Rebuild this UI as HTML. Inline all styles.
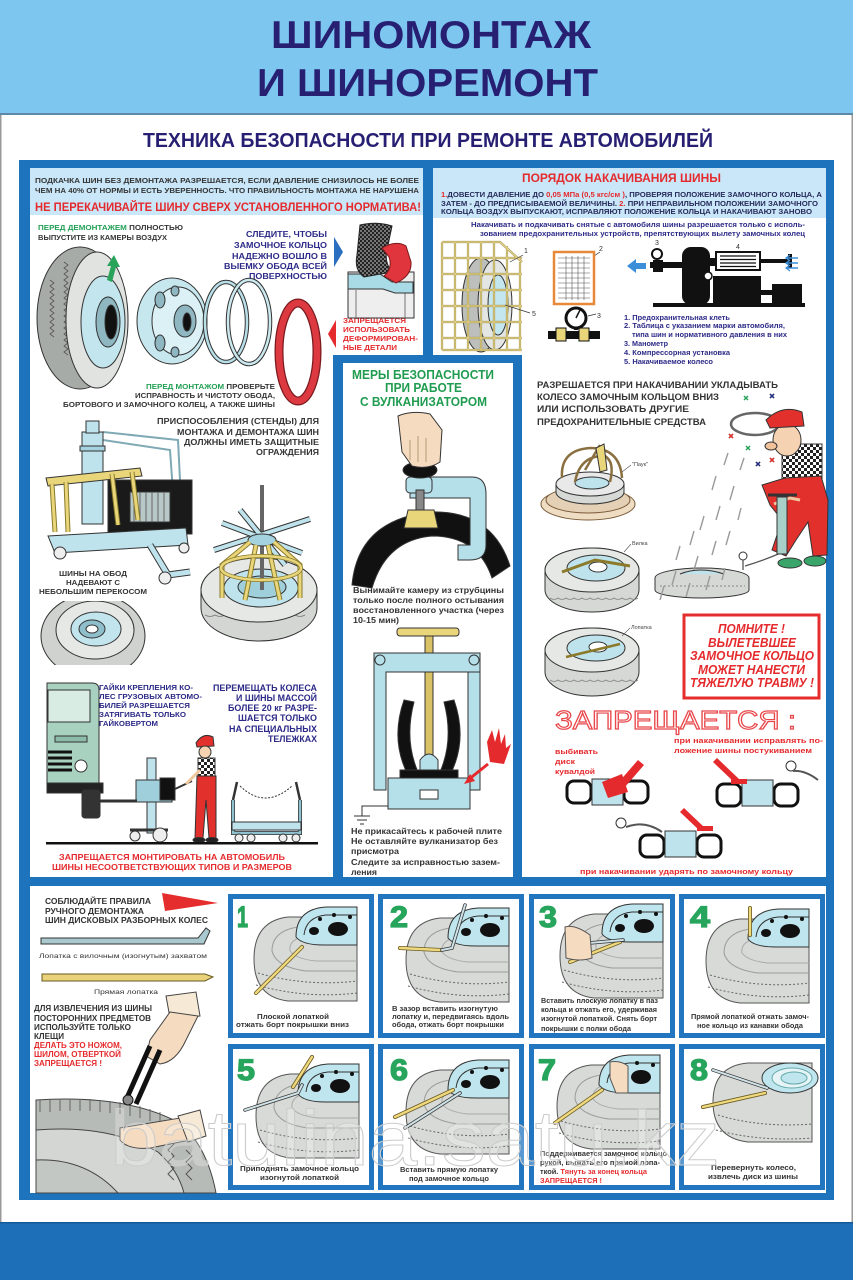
<!DOCTYPE html>
<html><head><meta charset="utf-8"><title>Шиномонтаж и шиноремонт</title>
<style>
html,body{margin:0;padding:0;background:#fff;width:853px;height:1280px;overflow:hidden}
svg{display:block}
text{font-family:"Liberation Sans","Noto Sans CJK JP",sans-serif;font-weight:bold}
.n{font-weight:normal}
</style></head><body>
<svg xmlns="http://www.w3.org/2000/svg" xmlns:xlink="http://www.w3.org/1999/xlink" width="853" height="1280" viewBox="0 0 853 1280">
<defs>
<pattern id="chk" width="6" height="6" patternUnits="userSpaceOnUse"><rect width="6" height="6" fill="#fff"/><rect width="3" height="3" fill="#222"/><rect x="3" y="3" width="3" height="3" fill="#222"/></pattern>
<pattern id="chk2" width="4" height="4" patternUnits="userSpaceOnUse"><rect width="4" height="4" fill="#777"/><rect width="2" height="2" fill="#222"/><rect x="2" y="2" width="2" height="2" fill="#222"/></pattern>
<g id="st">
 <path d="M131,22 H62 Q28,26 28,64 Q28,102 62,106 H131 Z" fill="#d7dad7" stroke="#555"/>
 <path d="M131,32 H72 Q46,36 46,56 Q50,72 80,76 H131" fill="none" stroke="#9a9d9a"/>
 <path d="M131,40 H82 Q62,44 64,56 Q70,64 90,66 H131" fill="none" stroke="#aaa"/>
 <path d="M32,78 Q80,92 131,86" fill="none" stroke="#666" stroke-dasharray="2 2"/>
 <path d="M30,90 Q80,104 131,98" fill="none" stroke="#666" stroke-dasharray="2 2"/>
 <path d="M70,42 Q70,14 100,12 H131 V50 H98 Q76,50 70,42Z" fill="#bfe5ee" stroke="#333"/>
 <path d="M78,40 Q80,22 100,20 H131" fill="none" stroke="#333"/>
 <ellipse cx="112" cy="34" rx="10" ry="7" fill="#111"/>
 <ellipse cx="88" cy="36" rx="5" ry="4" fill="#111"/>
 <circle cx="94" cy="24" r="2" fill="#111"/><circle cx="108" cy="20" r="2" fill="#111"/><circle cx="124" cy="22" r="2" fill="#111"/>
</g>
</defs>

<rect width="853" height="1280" fill="#fff"/>
<!-- header -->
<rect x="0" y="0" width="853" height="113" fill="#7cc6f0"/>
<rect x="0" y="113" width="853" height="2" fill="#5d89a9"/>
<text x="271" y="48" font-size="39" fill="#261f72" textLength="320" lengthAdjust="spacingAndGlyphs">ШИНОМОНТАЖ</text>
<text x="257" y="96" font-size="39" fill="#261f72" textLength="341" lengthAdjust="spacingAndGlyphs">И ШИНОРЕМОНТ</text>
<text x="143" y="147" font-size="20.5" fill="#261f72" textLength="570" lengthAdjust="spacingAndGlyphs">ТЕХНИКА БЕЗОПАСНОСТИ ПРИ РЕМОНТЕ АВТОМОБИЛЕЙ</text>
<rect x="0" y="115" width="1.5" height="1107" fill="#999"/>
<rect x="851.5" y="115" width="1.5" height="1107" fill="#999"/>

<!-- frame -->
<rect x="19" y="160" width="815" height="1040" fill="#1e73bd"/>
<path d="M30,168 H423 V355 H333 V877 H30 Z" fill="#fff"/>
<path d="M433,168 H826 V877 H522 V355 H433 Z" fill="#fff"/>
<rect x="343" y="363" width="170" height="514" fill="#fff"/>
<rect x="30" y="886" width="796" height="307" fill="#fff"/>
<rect x="30" y="168" width="393" height="47" fill="#c9e7f8"/>
<rect x="433" y="168" width="393" height="50" fill="#c9e7f8"/>

<!-- ===== LEFT TOP ===== -->
<text x="35" y="183" font-size="7.3" fill="#353535" textLength="384" lengthAdjust="spacingAndGlyphs">ПОДКАЧКА ШИН БЕЗ ДЕМОНТАЖА РАЗРЕШАЕТСЯ, ЕСЛИ ДАВЛЕНИЕ СНИЗИЛОСЬ НЕ БОЛЕЕ</text>
<text x="35" y="193" font-size="7.3" fill="#353535" textLength="384" lengthAdjust="spacingAndGlyphs">ЧЕМ НА 40% ОТ НОРМЫ И ЕСТЬ УВЕРЕННОСТЬ. ЧТО ПРАВИЛЬНОСТЬ МОНТАЖА НЕ НАРУШЕНА</text>
<text x="35" y="211" font-size="11.5" fill="#e52a2d" textLength="386" lengthAdjust="spacingAndGlyphs">НЕ ПЕРЕКАЧИВАЙТЕ ШИНУ СВЕРХ УСТАНОВЛЕННОГО НОРМАТИВА!</text>
<text x="38" y="230" font-size="7" textLength="145" lengthAdjust="spacingAndGlyphs"><tspan fill="#23a055">ПЕРЕД ДЕМОНТАЖЕМ</tspan><tspan fill="#353535"> ПОЛНОСТЬЮ</tspan></text>
<text x="38" y="240" font-size="7" fill="#353535" textLength="129" lengthAdjust="spacingAndGlyphs">ВЫПУСТИТЕ ИЗ КАМЕРЫ ВОЗДУХ</text>
<g font-size="8.2" fill="#2d2a87">
<text x="246" y="237" textLength="81" lengthAdjust="spacingAndGlyphs">СЛЕДИТЕ, ЧТОБЫ</text>
<text x="234" y="248" textLength="93" lengthAdjust="spacingAndGlyphs">ЗАМОЧНОЕ КОЛЬЦО</text>
<text x="232" y="259" textLength="95" lengthAdjust="spacingAndGlyphs">НАДЕЖНО ВОШЛО В</text>
<text x="224" y="269" textLength="103" lengthAdjust="spacingAndGlyphs">ВЫЕМКУ ОБОДА ВСЕЙ</text>
<text x="249" y="279" textLength="78" lengthAdjust="spacingAndGlyphs">ПОВЕРХНОСТЬЮ</text>
</g>
<g font-size="7.5" fill="#e52a2d">
<text x="343" y="323" textLength="63" lengthAdjust="spacingAndGlyphs">ЗАПРЕЩАЕТСЯ</text>
<text x="343" y="332" textLength="67" lengthAdjust="spacingAndGlyphs">ИСПОЛЬЗОВАТЬ</text>
<text x="343" y="341" textLength="75" lengthAdjust="spacingAndGlyphs">ДЕФОРМИРОВАН-</text>
<text x="343" y="350" textLength="54" lengthAdjust="spacingAndGlyphs">НЫЕ ДЕТАЛИ</text>
</g>
<polygon points="334,237 343,252 334,267" fill="#2a6fc0"/>
<polygon points="336,320 328,334 336,348" fill="#e52a2d"/>
<!-- rim cross-section -->
<rect x="348" y="272" width="66" height="46" fill="#eee" stroke="#333"/>
<path d="M356,290 V318 M405,292 V318" stroke="#777"/>
<path d="M348,274 H380 L392,282 H413 V293 H395 L383,289 H348Z" fill="#a9dbe6" stroke="#333"/>
<path d="M360,225 Q377,221 392,226 L387,250 Q384,262 392,272 L364,277 Q354,270 357,255 Z" fill="url(#chk2)" stroke="#222"/>
<path d="M382,248 Q396,240 406,246 L411,262 Q412,276 396,283 L384,276 Q393,268 389,257Z" fill="#e0353c" stroke="#7a1a1c"/>
<!-- big tire -->
<g stroke="#333">
<ellipse cx="80" cy="318" rx="43" ry="71" fill="#a7aba8"/>
<path d="M50,280 l4,3 -4,3 4,3 -4,3 4,3 -4,3 4,3 -4,3 4,3 -4,3 4,3 -4,3 4,3 -4,3 4,3 -4,3 4,3 -4,3 4,3 M64,262 l4,3 -4,3 4,3 -4,3 4,3 -4,3 4,3 -4,3 4,3 -4,3 4,3 -4,3 4,3 -4,3 4,3 -4,3 4,3 -4,3 4,3 -4,3 4,3 -4,3 4,3 -4,3 4,3 -4,3 4,3 -4,3 4,3 -4,3 4,3" fill="none" stroke="#555" stroke-width="0.8"/>
<ellipse cx="97" cy="320" rx="31" ry="68" fill="#e1e3e1"/>
<ellipse cx="103" cy="322" rx="22" ry="46" fill="#c3e5ee"/>
<ellipse cx="108" cy="322" rx="12" ry="25" fill="#8fb7c2"/>
<ellipse cx="111" cy="322" rx="6" ry="17" fill="#111"/>
</g>
<path d="M107,280 L111,266 L107,266 L114,255 L120,267 L116,267 L112,282Z" fill="#2aa35a"/>
<!-- disc -->
<g stroke="#333">
<ellipse cx="172" cy="321" rx="35" ry="43" fill="#c7e7ef"/>
<ellipse cx="178" cy="321" rx="26" ry="34" fill="#dcf1f6"/>
<ellipse cx="160" cy="300" rx="5" ry="8" fill="#8fb7c2"/><ellipse cx="160" cy="343" rx="5" ry="8" fill="#8fb7c2"/>
<ellipse cx="175" cy="291" rx="4" ry="5" fill="#8fb7c2"/><ellipse cx="175" cy="352" rx="4" ry="5" fill="#8fb7c2"/>
<ellipse cx="185" cy="321" rx="11" ry="16" fill="#8fb7c2"/>
<ellipse cx="187" cy="322" rx="4" ry="9" fill="#111"/>
</g>
<!-- rings -->
<ellipse cx="226" cy="322" rx="21" ry="40" fill="none" stroke="#333" stroke-width="4.5"/>
<ellipse cx="226" cy="322" rx="21" ry="40" fill="none" stroke="#b9dfe8" stroke-width="2.5"/>
<ellipse cx="249" cy="322" rx="21" ry="42" fill="none" stroke="#333" stroke-width="4.5"/>
<ellipse cx="249" cy="322" rx="21" ry="42" fill="none" stroke="#cbe9ef" stroke-width="2.5"/>
<!-- red ring -->
<ellipse cx="298" cy="352" rx="19" ry="49" fill="none" stroke="#7a1a1e" stroke-width="9"/>
<ellipse cx="298" cy="352" rx="19" ry="49" fill="none" stroke="#dc3a40" stroke-width="6.5"/>
<text x="146" y="389" font-size="7.3" textLength="129" lengthAdjust="spacingAndGlyphs"><tspan fill="#23a055">ПЕРЕД МОНТАЖОМ</tspan><tspan fill="#353535"> ПРОВЕРЬТЕ</tspan></text>
<text x="135" y="398" font-size="7.3" fill="#353535" textLength="140" lengthAdjust="spacingAndGlyphs">ИСПРАВНОСТЬ И ЧИСТОТУ ОБОДА,</text>
<text x="63" y="407" font-size="7.3" fill="#353535" textLength="212" lengthAdjust="spacingAndGlyphs">БОРТОВОГО И ЗАМОЧНОГО КОЛЕЦ, А ТАКЖЕ ШИНЫ</text>

<!-- ===== LEFT MIDDLE ===== -->
<g font-size="8.6" fill="#353535">
<text x="157" y="424" textLength="162" lengthAdjust="spacingAndGlyphs">ПРИСПОСОБЛЕНИЯ (СТЕНДЫ) ДЛЯ</text>
<text x="177" y="435" textLength="142" lengthAdjust="spacingAndGlyphs">МОНТАЖА И ДЕМОНТАЖА ШИН</text>
<text x="184" y="445" textLength="135" lengthAdjust="spacingAndGlyphs">ДОЛЖНЫ ИМЕТЬ ЗАЩИТНЫЕ</text>
<text x="256" y="455" textLength="63" lengthAdjust="spacingAndGlyphs">ОГРАЖДЕНИЯ</text>
</g>
<!-- machine -->
<g stroke="#333">
<path d="M103,432 L178,440 L182,520 M103,440 L170,450 L175,520" fill="none" stroke="#7fa9b5" stroke-width="2"/>
<rect x="108" y="480" width="84" height="54" fill="#1a1a1a"/>
<rect x="130" y="492" width="40" height="30" fill="#b8c8c8"/>
<path d="M134,492 V522 M140,492 V522 M146,492 V522 M152,492 V522 M158,492 V522 M164,492 V522" stroke="#666"/>
<rect x="82" y="432" width="21" height="92" fill="#bfe3ec"/>
<rect x="86" y="421" width="13" height="12" fill="#bfe3ec"/>
<rect x="80" y="446" width="25" height="5" fill="#a4d2de"/>
<path d="M46,478 L140,468 L142,476 L48,486Z" fill="#e9d67b"/>
<path d="M52,484 L55,532 M66,482 L68,532 M112,474 L118,525 M132,472 L138,520" stroke="#8a7a2a" stroke-width="5" fill="none"/>
<path d="M52,484 L55,532 M66,482 L68,532 M112,474 L118,525 M132,472 L138,520" stroke="#e9d67b" stroke-width="3" fill="none"/>
<path d="M48,536 L186,528 L188,545 L55,553 Z" fill="#bfe3ec"/>
<path d="M150,545 L168,575 L190,572" fill="none" stroke="#333" stroke-width="7"/>
<path d="M150,545 L168,575 L190,572" fill="none" stroke="#bfe3ec" stroke-width="5"/>
<circle cx="60" cy="553" r="6" fill="#eee"/><circle cx="165" cy="578" r="6" fill="#eee"/><circle cx="184" cy="548" r="5" fill="#eee"/>
</g>
<!-- spreader on tire -->
<g stroke="#333">
<path d="M201,590 A58,32 0 0,1 317,590 L317,608 A58,33 0 0,1 201,608 Z" fill="#d3d6d3"/>
<path d="M205,615 q5,3 10,0 q5,3 10,0 q5,3 10,0 q5,3 10,0 q5,3 10,0 q5,3 10,0 q5,3 10,0 q5,3 10,0 q5,3 10,0 q5,3 10,0" fill="none" stroke="#777" stroke-width="0.8"/>
<ellipse cx="259" cy="590" rx="58" ry="32" fill="#e6e8e6"/>
<ellipse cx="261" cy="588" rx="37" ry="19" fill="#bfe3ec"/>
<ellipse cx="262" cy="587" rx="24" ry="11" fill="#9fcfdb"/>
<path d="M262,485 V590" stroke="#666" stroke-width="4"/>
<path d="M222,523 L302,553 M214,550 L310,519 M240,510 L285,565" stroke="#333" stroke-width="6"/>
<path d="M222,523 L302,553 M214,550 L310,519 M240,510 L285,565" stroke="#bfe3ec" stroke-width="4"/>
<ellipse cx="262" cy="540" rx="14" ry="6" fill="#a4d2de"/>
<path d="M250,542 L222,565 L222,598 M274,542 L300,565 L300,598 M256,545 L245,600 M268,545 L280,600" fill="none" stroke="#8a7a2a" stroke-width="5"/>
<path d="M250,542 L222,565 L222,598 M274,542 L300,565 L300,598 M256,545 L245,600 M268,545 L280,600" fill="none" stroke="#e9d67b" stroke-width="3"/>
<ellipse cx="261" cy="568" rx="40" ry="12" fill="none" stroke="#8a7a2a" stroke-width="4"/>
<ellipse cx="261" cy="568" rx="40" ry="12" fill="none" stroke="#e9d67b" stroke-width="2.5"/>
</g>
<g font-size="7.5" fill="#353535">
<text x="59" y="576" textLength="68" lengthAdjust="spacingAndGlyphs">ШИНЫ НА ОБОД</text>
<text x="66" y="585" textLength="54" lengthAdjust="spacingAndGlyphs">НАДЕВАЮТ С</text>
<text x="39" y="594" textLength="108" lengthAdjust="spacingAndGlyphs">НЕБОЛЬШИМ ПЕРЕКОСОМ</text>
</g>
<!-- tire -->
<clipPath id="c1"><rect x="40" y="601" width="110" height="64"/></clipPath>
<g clip-path="url(#c1)" stroke="#333">
<ellipse cx="93" cy="636" rx="52" ry="42" fill="#cfd2cf"/>
<ellipse cx="95" cy="630" rx="39" ry="29" fill="#e6e8e6"/>
<ellipse cx="96" cy="629" rx="25" ry="17" fill="#c2e4ec"/>
<ellipse cx="92" cy="629" rx="13" ry="9" fill="#8fbfcb"/>
<ellipse cx="92" cy="629" rx="6" ry="4" fill="#fff"/>
</g>
<!-- truck scene -->
<g stroke="#333">
<path d="M47,683 H92 Q99,683 99,690 V785 H47Z" fill="#a9d1bf"/>
<path d="M48,690 H90 V722 H48Z" fill="#d8ece3"/>
<rect x="55" y="736" width="32" height="6" fill="#8dbca8"/>
<path d="M48,752 H72 M48,758 H72 M48,764 H72 M48,770 H72" stroke="#111" stroke-width="3"/>
<circle cx="81" cy="766" r="6" fill="#fff"/>
<rect x="47" y="783" width="56" height="10" fill="#222"/>
<rect x="82" y="790" width="18" height="28" rx="3" fill="#333"/>
<rect x="147" y="758" width="9" height="75" fill="#bfe3ec"/>
<rect x="136" y="780" width="36" height="22" fill="#9fcfdb"/>
<rect x="160" y="778" width="15" height="22" fill="#111"/>
<path d="M100,801 H137" stroke-width="3"/>
<path d="M130,830 H168" stroke-width="3"/>
<circle cx="160" cy="835" r="7" fill="#eee"/><circle cx="135" cy="836" r="5" fill="#eee"/>
<path d="M175,789 L192,781" stroke-width="2"/>
<!-- man -->
<path d="M196,743 Q203,732 213,737 L214,746 L197,747Z" fill="#e2302d"/>
<ellipse cx="205" cy="752" rx="6" ry="6" fill="#f5d3b2"/>
<rect x="198" y="758" width="17" height="32" fill="url(#chk)"/>
<path d="M197,776 H216 V838 H209 L206,800 L203,838 H195Z" fill="#e2302d"/>
<path d="M200,770 L186,784" stroke="#f0c8a0" stroke-width="3"/>
<ellipse cx="199" cy="840" rx="6" ry="2.5" fill="#222"/><ellipse cx="212" cy="840" rx="6" ry="2.5" fill="#222"/>
<!-- cart -->
<path d="M233,800 V833 H300 V800" fill="none" stroke="#333" stroke-width="4"/>
<path d="M233,800 V833 H300 V800" fill="none" stroke="#8fc1cf" stroke-width="2.5"/>
<rect x="232" y="822" width="69" height="8" fill="#bfe3ec"/>
<path d="M237,782 L233,800 M296,782 L300,800" stroke-width="2.5" fill="none"/>
<path d="M240,786 Q265,810 292,786" fill="none" stroke-dasharray="2 1.5"/>
<circle cx="239" cy="838" r="4" fill="#eee"/><circle cx="251" cy="838" r="4" fill="#eee"/><circle cx="283" cy="838" r="4" fill="#eee"/><circle cx="296" cy="838" r="4" fill="#eee"/>
</g>
<rect x="46" y="842" width="272" height="2.5" fill="#111"/>
<g font-size="7.3" fill="#2d2a87">
<text x="99" y="690" textLength="94" lengthAdjust="spacingAndGlyphs">ГАЙКИ КРЕПЛЕНИЯ КО-</text>
<text x="99" y="699" textLength="103" lengthAdjust="spacingAndGlyphs">ЛЕС ГРУЗОВЫХ АВТОМО-</text>
<text x="99" y="708" textLength="91" lengthAdjust="spacingAndGlyphs">БИЛЕЙ РАЗРЕШАЕТСЯ</text>
<text x="99" y="717" textLength="87" lengthAdjust="spacingAndGlyphs">ЗАТЯГИВАТЬ ТОЛЬКО</text>
<text x="99" y="726" textLength="59" lengthAdjust="spacingAndGlyphs">ГАЙКОВЕРТОМ</text>
</g>
<g font-size="9.2" fill="#2d2a87">
<text x="213" y="691" textLength="104" lengthAdjust="spacingAndGlyphs">ПЕРЕМЕЩАТЬ КОЛЕСА</text>
<text x="236" y="701" textLength="81" lengthAdjust="spacingAndGlyphs">И ШИНЫ МАССОЙ</text>
<text x="228" y="711" textLength="89" lengthAdjust="spacingAndGlyphs">БОЛЕЕ 20 кг РАЗРЕ-</text>
<text x="238" y="721" textLength="79" lengthAdjust="spacingAndGlyphs">ШАЕТСЯ ТОЛЬКО</text>
<text x="229" y="732" textLength="88" lengthAdjust="spacingAndGlyphs">НА СПЕЦИАЛЬНЫХ</text>
<text x="268" y="742" textLength="49" lengthAdjust="spacingAndGlyphs">ТЕЛЕЖКАХ</text>
</g>
<g font-size="8.5" fill="#e52a2d">
<text x="59" y="860" textLength="226" lengthAdjust="spacingAndGlyphs">ЗАПРЕЩАЕТСЯ МОНТИРОВАТЬ НА АВТОМОБИЛЬ</text>
<text x="52" y="870" textLength="240" lengthAdjust="spacingAndGlyphs">ШИНЫ НЕСООТВЕТСТВУЮЩИХ ТИПОВ И РАЗМЕРОВ</text>
</g>

<!-- ===== VULCANIZER ===== -->
<g font-size="12.5" fill="#1f9c50">
<text x="352" y="379" textLength="142" lengthAdjust="spacingAndGlyphs">МЕРЫ БЕЗОПАСНОСТИ</text>
<text x="385" y="392" textLength="77" lengthAdjust="spacingAndGlyphs">ПРИ РАБОТЕ</text>
<text x="360" y="406" textLength="127" lengthAdjust="spacingAndGlyphs">С ВУЛКАНИЗАТОРОМ</text>
</g>
<g stroke="#333">
<path d="M352,585 Q358,520 430,512 Q492,510 510,566 L492,578 Q478,536 432,536 Q386,540 372,588Z" fill="#111"/>
<path d="M410,477 H472 Q486,477 486,494 V545 Q486,560 470,560 H458 V545 H470 V498 H410Z" fill="#b5dfe9"/>
<rect x="406" y="477" width="26" height="16" rx="4" fill="#b5dfe9"/>
<rect x="416" y="490" width="8" height="20" fill="#888"/>
<path d="M408,510 H434 L438,528 H404Z" fill="#e9d67b"/>
<ellipse cx="420" cy="470" rx="17" ry="8" fill="#111"/>
<path d="M398,416 Q412,410 430,414 L442,430 L440,462 Q428,470 412,466 L402,452 Z" fill="#f5dcc0"/>
<path d="M410,440 V460 M418,436 V462 M426,438 V462" stroke="#b89878" fill="none"/>
<!-- press -->
<rect x="397" y="628" width="62" height="8" rx="3" fill="#e9d67b"/>
<rect x="425" y="636" width="8" height="120" fill="#d9c266"/>
<path d="M374,653 H480 V672 H386 V790 H374Z" fill="#b5dfe9"/>
<path d="M468,672 H480 V790 H468Z" fill="#b5dfe9"/>
<circle cx="380" cy="660" r="5" fill="#b5dfe9"/><circle cx="474" cy="660" r="5" fill="#b5dfe9"/>
<path d="M404,700 Q390,740 408,775 L418,772 Q404,740 414,702Z M454,700 Q468,740 450,775 L440,772 Q454,740 444,702Z" fill="#111"/>
<path d="M420,760 Q429,748 438,760 V772 H420Z" fill="#b5dfe9"/>
<path d="M400,770 H458 V780 H400Z" fill="#111"/>
<rect x="388" y="778" width="82" height="31" fill="#b5dfe9"/>
<rect x="420" y="790" width="18" height="9" fill="#fff"/>
<path d="M388,806 H362 V816 M354,816 H370 M357,820 H367 M360,824 H364" fill="none"/>
<path d="M487,742 L492,730 L495,742 L499,728 L501,744 L505,734 L506,748 L511,744 L504,764 L490,762Z" fill="#e52a2d" stroke="none"/>
<path d="M488,764 L468,780" stroke="#e52a2d" stroke-width="3"/>
<polygon points="464,784 470,774 475,781" fill="#e52a2d" stroke="none"/>
</g>
<g font-size="8" fill="#333">
<text x="353" y="593" textLength="151" lengthAdjust="spacingAndGlyphs">Вынимайте камеру из струбцины</text>
<text x="353" y="603" textLength="151" lengthAdjust="spacingAndGlyphs">только после полного остывания</text>
<text x="353" y="613" textLength="151" lengthAdjust="spacingAndGlyphs">восстановленного участка (через</text>
<text x="353" y="623" textLength="46" lengthAdjust="spacingAndGlyphs">10-15 мин)</text>
<text x="351" y="834" textLength="151" lengthAdjust="spacingAndGlyphs">Не прикасайтесь к рабочей плите</text>
<text x="351" y="844" textLength="147" lengthAdjust="spacingAndGlyphs">Не оставляйте вулканизатор без</text>
<text x="351" y="854" textLength="48" lengthAdjust="spacingAndGlyphs">присмотра</text>
<text x="351" y="865" textLength="149" lengthAdjust="spacingAndGlyphs">Следите за исправностью зазем-</text>
<text x="351" y="875" textLength="26" lengthAdjust="spacingAndGlyphs">ления</text>
</g>

<!-- ===== RIGHT UPPER ===== -->
<text x="522" y="182" font-size="12" fill="#e52a2d" textLength="199" lengthAdjust="spacingAndGlyphs">ПОРЯДОК НАКАЧИВАНИЯ ШИНЫ</text>
<g font-size="7.6" fill="#262a5a">
<text x="441" y="197" textLength="381" lengthAdjust="spacingAndGlyphs"><tspan fill="#e52a2d">1.</tspan>ДОВЕСТИ ДАВЛЕНИЕ ДО <tspan fill="#e52a2d">0,05 МПа (0,5 кгс/см )</tspan>, ПРОВЕРЯЯ ПОЛОЖЕНИЕ ЗАМОЧНОГО КОЛЬЦА, А</text>
<text x="441" y="206" textLength="377" lengthAdjust="spacingAndGlyphs">ЗАТЕМ - ДО ПРЕДПИСЫВАЕМОЙ ВЕЛИЧИНЫ. <tspan fill="#e52a2d">2.</tspan> ПРИ НЕПРАВИЛЬНОМ ПОЛОЖЕНИИ ЗАМОЧНОГО</text>
<text x="441" y="214" textLength="371" lengthAdjust="spacingAndGlyphs">КОЛЬЦА ВОЗДУХ ВЫПУСКАЮТ, ИСПРАВЛЯЮТ ПОЛОЖЕНИЕ  КОЛЬЦА И НАКАЧИВАЮТ ЗАНОВО</text>
</g>
<g font-size="7.5" fill="#2d2a87">
<text x="471" y="227" textLength="334" lengthAdjust="spacingAndGlyphs">Накачивать и подкачивать снятые с автомобиля  шины разрешается только с исполь-</text>
<text x="480" y="236" textLength="325" lengthAdjust="spacingAndGlyphs">зованием предохранительных устройств, препятствующих вылету замочных колец</text>
</g>
<!-- cage -->
<g stroke="#333">
<ellipse cx="481" cy="305" rx="19" ry="47" fill="#bdbfbd"/>
<ellipse cx="495" cy="305" rx="17" ry="45" fill="#e4e6e4"/>
<ellipse cx="498" cy="305" rx="10" ry="30" fill="#c4e6ee"/>
</g>
<path d="M442,242 V350 M455,242 V350 M468,242 V350 M481,242 V350 M494,242 V350 M507,246 V350 M520,262 V350 M442,242 H500 L522,262 M442,258 H522 M442,274 H522 M442,290 H522 M442,306 H522 M442,322 H522 M442,338 H522 M442,350 H522" fill="none" stroke="#9a8a40" stroke-width="2.2"/>
<path d="M442,242 V350 M455,242 V350 M468,242 V350 M481,242 V350 M494,242 V350 M507,246 V350 M520,262 V350 M442,242 H500 L522,262 M442,258 H522 M442,274 H522 M442,290 H522 M442,306 H522 M442,322 H522 M442,338 H522 M442,350 H522" fill="none" stroke="#e6d88e" stroke-width="1.2"/>
<g class="n" font-size="7" fill="#333">
<text class="n" x="524" y="253">1</text><text class="n" x="532" y="316">5</text>
<text class="n" x="599" y="251">2</text><text class="n" x="597" y="318">3</text>
<text class="n" x="655" y="245">3</text><text class="n" x="736" y="249">4</text>
</g>
<path d="M510,262 L523,255 M505,305 L530,313 M594,256 L600,252 M588,316 L596,314 M740,251 L735,256" stroke="#333" stroke-width="0.7" fill="none"/>
<!-- table -->
<rect x="554" y="252" width="40" height="52" fill="#fff" stroke="#e8893a" stroke-width="2.5"/>
<path d="M558,258 H590 M558,263 H590 M558,268 H590 M558,273 H590 M558,278 H590 M558,283 H590 M558,288 H590 M558,293 H590 M558,298 H590 M566,256 V300 M572,256 V300 M578,256 V300 M584,256 V300" stroke="#555" stroke-width="0.6"/>
<!-- gauge -->
<rect x="548" y="331" width="52" height="8" fill="#111"/>
<rect x="556" y="328" width="10" height="13" fill="#e9d67b" stroke="#111"/>
<rect x="579" y="328" width="10" height="13" fill="#e9d67b" stroke="#111"/>
<rect x="574" y="320" width="4" height="10" fill="#111"/>
<circle cx="576" cy="318" r="10" fill="#fff" stroke="#111" stroke-width="3"/>
<path d="M576,318 L580,310" stroke="#111" stroke-width="1.5"/>
<!-- compressor -->
<g fill="#111">
<rect x="653" y="303" width="152" height="4"/>
<rect x="682" y="247" width="28" height="58" rx="9"/>
<rect x="650" y="262" width="34" height="6"/>
<rect x="653" y="260" width="10" height="12"/>
<rect x="713" y="276" width="48" height="28"/>
<rect x="772" y="284" width="30" height="19"/>
<rect x="761" y="290" width="11" height="5"/>
<rect x="709" y="258" width="8" height="8"/>
<rect x="760" y="259" width="30" height="4"/>
<rect x="788" y="254" width="4" height="14"/>
</g>
<circle cx="657" cy="254" r="5" fill="#fff" stroke="#111" stroke-width="2"/>
<rect x="716" y="252" width="44" height="18" fill="#fff" stroke="#111" stroke-width="2"/>
<path d="M720,256 H756 M720,259.5 H756 M720,263 H756 M720,266.5 H756" stroke="#111" stroke-width="1.2"/>
<circle cx="708" cy="276" r="4" fill="#fff" stroke="#111" stroke-width="1.5"/>
<path d="M627,266 L636,259 V263 H646 V269 H636 V273Z" fill="#3b8ed8"/>
<path d="M786,258 H798 M786,263 H798 M786,268 H798" stroke="#3b8ed8" stroke-width="1.5"/>
<path d="M790,255 L786,258 L790,261 M790,260 L786,263 L790,266 M790,265 L786,268 L790,271" stroke="#3b8ed8" stroke-width="1.2" fill="none"/>
<g font-size="7.3" fill="#2d2a87">
<text x="624" y="320" textLength="106" lengthAdjust="spacingAndGlyphs">1. Предохранительная клеть</text>
<text x="624" y="328" textLength="161" lengthAdjust="spacingAndGlyphs">2. Таблица с указанием марки автомобиля,</text>
<text x="632" y="337" textLength="155" lengthAdjust="spacingAndGlyphs">типа шин и нормативного давления в них</text>
<text x="624" y="346" textLength="44" lengthAdjust="spacingAndGlyphs">3. Манометр</text>
<text x="624" y="355" textLength="106" lengthAdjust="spacingAndGlyphs">4. Компрессорная установка</text>
<text x="624" y="364" textLength="89" lengthAdjust="spacingAndGlyphs">5. Накачиваемое колесо</text>
</g>

<!-- ===== RIGHT LOWER ===== -->
<g font-size="9.6" fill="#333">
<text x="537" y="388" textLength="241" lengthAdjust="spacingAndGlyphs">РАЗРЕШАЕТСЯ ПРИ НАКАЧИВАНИИ УКЛАДЫВАТЬ</text>
<text x="537" y="400" textLength="182" lengthAdjust="spacingAndGlyphs">КОЛЕСО ЗАМОЧНЫМ КОЛЬЦОМ ВНИЗ</text>
<text x="537" y="412" textLength="152" lengthAdjust="spacingAndGlyphs">ИЛИ ИСПОЛЬЗОВАТЬ ДРУГИЕ</text>
<text x="537" y="425" textLength="169" lengthAdjust="spacingAndGlyphs">ПРЕДОХРАНИТЕЛЬНЫЕ СРЕДСТВА</text>
</g>
<!-- spider tire -->
<g stroke="#333">
<ellipse cx="588" cy="504" rx="47" ry="16" fill="#eedcc3" stroke="#7a5a3a"/>
<ellipse cx="588" cy="500" rx="42" ry="13" fill="#e4d0b4" stroke="#7a5a3a"/>
<path d="M556,492 A34,12 0 0,0 624,492 V484 H556Z" fill="#d6d9d6"/>
<ellipse cx="590" cy="484" rx="34" ry="12" fill="#e8e9e8"/>
<ellipse cx="592" cy="483" rx="17" ry="6" fill="#bfe3ec"/>
<path d="M562,478 Q560,450 590,448 Q620,448 622,478 M575,482 Q580,455 605,456 Q615,462 610,482 M585,470 L600,445" fill="none" stroke="#8a7040" stroke-width="2.5"/>
<path d="M596,448 L604,444 L607,470 L600,472Z" fill="#e9d67b"/>
</g>
<!-- vilka tire -->
<g stroke="#333">
<path d="M545,570 A47,22 0 0,1 639,570 V590 A47,22 0 0,1 545,590 Z" fill="#d5d8d5"/>
<path d="M550,598 q4,3 8,0 q4,3 8,0 q4,3 8,0 q4,3 8,0 q4,3 8,0 q4,3 8,0 q4,3 8,0 q4,3 8,0 q4,3 8,0 q4,3 8,0 q4,3 8,0" fill="none" stroke="#888" stroke-width="0.8"/>
<ellipse cx="592" cy="570" rx="47" ry="22" fill="#e6e8e6"/>
<ellipse cx="596" cy="568" rx="29" ry="13" fill="#bfe3ec"/>
<ellipse cx="598" cy="567" rx="9" ry="5" fill="#fff"/>
<path d="M562,572 L595,560 L630,566" fill="none" stroke="#8a7a2a" stroke-width="3"/>
</g>
<!-- lopatka tire -->
<g stroke="#333">
<path d="M545,650 A47,22 0 0,1 639,650 V672 A47,24 0 0,1 545,672 Z" fill="#d5d8d5"/>
<path d="M550,680 q4,3 8,0 q4,3 8,0 q4,3 8,0 q4,3 8,0 q4,3 8,0 q4,3 8,0 q4,3 8,0 q4,3 8,0 q4,3 8,0 q4,3 8,0 q4,3 8,0" fill="none" stroke="#888" stroke-width="0.8"/>
<ellipse cx="592" cy="650" rx="47" ry="22" fill="#e6e8e6"/>
<ellipse cx="596" cy="648" rx="29" ry="13" fill="#bfe3ec"/>
<ellipse cx="598" cy="647" rx="9" ry="5" fill="#fff"/>
<path d="M566,657 L620,644" stroke="#8a7a2a" stroke-width="2.5"/>
</g>
<g class="n" font-size="5.5" fill="#444">
<text class="n" x="632" y="466">"Паук"</text>
<text class="n" x="632" y="545">Вилка</text>
<text class="n" x="631" y="629">Лопатка</text>
</g>
<path d="M631,465 L622,472 M631,544 L624,552 M630,628 L622,636" stroke="#555" stroke-width="0.6"/>
<!-- flat tire -->
<g stroke="#333">
<path d="M655,578 A47,10 0 0,1 749,578 V590 A47,8 0 0,1 655,590 Z" fill="#d5d8d5"/>
<path d="M660,586 H745" stroke="#888" stroke-dasharray="2 2"/>
<path d="M680,574 Q700,566 724,574" fill="#bfe3ec"/>
<circle cx="743" cy="556" r="4" fill="#fff"/>
<path d="M743,560 V570 M745,566 Q765,560 783,552" fill="none" stroke="#555" stroke-width="1.3"/>
</g>
<!-- spray dashes -->
<path d="M660,600 l4,-14 M672,585 l4,-14 M686,597 l4,-14 M694,570 l4,-14 M706,590 l4,-14 M712,555 l4,-14 M722,580 l3,-12 M700,530 l4,-14 M716,520 l4,-14 M726,545 l4,-14 M730,500 l4,-14 M712,490 l4,-14 M740,470 l4,-12 M724,465 l4,-12 M738,520 l3,-12 M690,545 l4,-14 M676,560 l4,-14" stroke="#9a9a9a" stroke-width="1.4"/>
<!-- flying ring & stars -->
<ellipse cx="755" cy="424" rx="24" ry="11" fill="none" stroke="#666" stroke-width="2.5"/>
<path d="M744,396 l4,4 m0,-4 l-4,4 M770,394 l4,4 m0,-4 l-4,4 M729,434 l4,4 m0,-4 l-4,4 M746,446 l4,4 m0,-4 l-4,4 M756,462 l4,4 m0,-4 l-4,4 M770,458 l4,4 m0,-4 l-4,4" stroke="#2aa35a" stroke-width="1.5"/>
<path d="M770,394 l4,4 m0,-4 l-4,4 M756,462 l4,4 m0,-4 l-4,4" stroke="#2d2a87" stroke-width="1.5"/>
<path d="M729,434 l4,4 m0,-4 l-4,4 M770,458 l4,4 m0,-4 l-4,4" stroke="#e52a2d" stroke-width="1.5"/>
<!-- man with pump -->
<g stroke="#333">
<rect x="782" y="444" width="40" height="40" fill="url(#chk)"/>
<path d="M762,485 L785,478 L821,476 L828,500 L827,555 L813,556 L808,522 L796,540 L786,556 L772,550 L782,520 L770,505 Z" fill="#e2302d"/>
<path d="M774,504 L790,498 L800,500" fill="none" stroke="#f0c8a0" stroke-width="3"/>
<rect x="777" y="497" width="10" height="57" fill="#a8cfc8"/>
<path d="M768,495 H797" stroke-width="3"/>
<ellipse cx="787" cy="440" rx="14" ry="16" fill="#f5d3b2"/>
<ellipse cx="771" cy="446" rx="6" ry="4" fill="#f2c29a"/>
<path d="M766,420 Q782,404 802,412 L804,426 L770,428Z" fill="#e2302d"/>
<ellipse cx="790" cy="563" rx="12" ry="5" fill="#3aa56a"/>
<ellipse cx="815" cy="561" rx="11" ry="5" fill="#3aa56a"/>
</g>
<!-- warning box -->
<rect x="684" y="615" width="135" height="83" fill="#fff" stroke="#e52d2d" stroke-width="3"/>
<g font-size="13" fill="#e52a2d" font-style="italic">
<text x="718" y="633" textLength="67" lengthAdjust="spacingAndGlyphs">ПОМНИТЕ !</text>
<text x="708" y="647" textLength="88" lengthAdjust="spacingAndGlyphs">ВЫЛЕТЕВШЕЕ</text>
<text x="690" y="660" textLength="124" lengthAdjust="spacingAndGlyphs">ЗАМОЧНОЕ КОЛЬЦО</text>
<text x="698" y="674" textLength="107" lengthAdjust="spacingAndGlyphs">МОЖЕТ НАНЕСТИ</text>
<text x="690" y="687" textLength="124" lengthAdjust="spacingAndGlyphs">ТЯЖЕЛУЮ ТРАВМУ !</text>
</g>
<text class="n" x="555" y="729" font-size="26" fill="#fff" stroke="#e8474b" stroke-width="1.2" textLength="241" lengthAdjust="spacingAndGlyphs">ЗАПРЕЩАЕТСЯ :</text>
<g font-size="7.5" fill="#e52a2d">
<text x="555" y="754" textLength="43" lengthAdjust="spacingAndGlyphs">выбивать</text>
<text x="555" y="764" textLength="20" lengthAdjust="spacingAndGlyphs">диск</text>
<text x="555" y="774" textLength="40" lengthAdjust="spacingAndGlyphs">кувалдой</text>
<text x="674" y="743" textLength="149" lengthAdjust="spacingAndGlyphs">при накачивании исправлять по-</text>
<text x="674" y="753" textLength="138" lengthAdjust="spacingAndGlyphs">ложение шины постукиванием</text>
<text x="580" y="874" textLength="213" lengthAdjust="spacingAndGlyphs">при накачивании ударять по замочному кольцу</text>
</g>
<!-- small diagrams -->
<g stroke="#111" stroke-width="3">
<rect x="567" y="781" width="24" height="22" rx="7" fill="#fff"/>
<rect x="624" y="781" width="24" height="22" rx="7" fill="#fff"/>
<rect x="717" y="784" width="24" height="22" rx="7" fill="#fff"/>
<rect x="774" y="784" width="24" height="22" rx="7" fill="#fff"/>
<rect x="640" y="835" width="24" height="22" rx="7" fill="#fff"/>
<rect x="697" y="835" width="24" height="22" rx="7" fill="#fff"/>
</g>
<g stroke="#333">
<rect x="592" y="779" width="31" height="26" fill="#bfe3ec"/>
<rect x="742" y="780" width="31" height="26" fill="#bfe3ec"/>
<rect x="665" y="831" width="31" height="26" fill="#bfe3ec"/>
<circle cx="791" cy="766" r="5" fill="#fff"/>
<circle cx="621" cy="823" r="5" fill="#fff"/>
</g>
<path d="M793,771 Q805,770 818,780 M626,827 Q645,820 662,832" fill="none" stroke="#555" stroke-width="2"/>
<g fill="#e52a2d">
<path d="M602,782 L622,774 L628,792 L608,798Z"/>
<path d="M618,783 L638,760 L644,765 L624,788Z"/>
<path d="M717,758 L739,779 L735,783 L713,762Z"/>
<rect x="731" y="779" width="16" height="5"/>
<path d="M684,808 L704,827 L700,831 L680,812Z"/>
<rect x="697" y="826" width="16" height="5"/>
</g>

<!-- ===== BOTTOM SECTION ===== -->
<g font-size="8.4" fill="#333">
<text x="45" y="904" textLength="106" lengthAdjust="spacingAndGlyphs">СОБЛЮДАЙТЕ ПРАВИЛА</text>
<text x="45" y="914" textLength="99" lengthAdjust="spacingAndGlyphs">РУЧНОГО ДЕМОНТАЖА</text>
<text x="45" y="923" textLength="163" lengthAdjust="spacingAndGlyphs">ШИН ДИСКОВЫХ РАЗБОРНЫХ КОЛЕС</text>
</g>
<polygon points="162,893 218,903 165,911" fill="#e52d2d"/>
<path d="M41,938 H198 L206,928 L210,931 L204,944 H41Z" fill="#a9c9cf" stroke="#333"/>
<path d="M42,974 H205 L213,977 L205,981 H42Z" fill="#e9d27a" stroke="#665a20"/>
<g class="n" font-size="6.8" fill="#333">
<text class="n" x="39" y="958" textLength="168" lengthAdjust="spacingAndGlyphs">Лопатка с вилочным (изогнутым) захватом</text>
<text class="n" x="94" y="994" textLength="64" lengthAdjust="spacingAndGlyphs">Прямая лопатка</text>
</g>
<g font-size="8" fill="#333">
<text x="34" y="1011" textLength="118" lengthAdjust="spacingAndGlyphs">ДЛЯ ИЗВЛЕЧЕНИЯ ИЗ ШИНЫ</text>
<text x="34" y="1021" textLength="117" lengthAdjust="spacingAndGlyphs">ПОСТОРОННИХ ПРЕДМЕТОВ</text>
<text x="34" y="1030" textLength="97" lengthAdjust="spacingAndGlyphs">ИСПОЛЬЗУЙТЕ ТОЛЬКО</text>
<text x="34" y="1039" textLength="30" lengthAdjust="spacingAndGlyphs">КЛЕЩИ</text>
</g>
<g font-size="8" fill="#e52a2d">
<text x="34" y="1048" textLength="88" lengthAdjust="spacingAndGlyphs">ДЕЛАТЬ ЭТО НОЖОМ,</text>
<text x="34" y="1057" textLength="87" lengthAdjust="spacingAndGlyphs">ШИЛОМ, ОТВЕРТКОЙ</text>
<text x="34" y="1066" textLength="68" lengthAdjust="spacingAndGlyphs">ЗАПРЕЩАЕТСЯ !</text>
</g>
<!-- tire + hands -->
<g stroke="#444">
<path d="M36,1193 V1100 Q130,1094 183,1125 Q208,1150 216,1193 Z" fill="#b7bbb7"/>
<path d="M40,1100 V1112 M50,1100 V1112 M60,1099 V1111 M70,1099 V1111 M80,1099 V1111 M90,1099 V1111 M100,1100 V1112 M110,1101 V1113 M120,1102 V1114 M130,1104 V1116 M140,1106 V1118 M150,1109 V1121 M160,1112 V1124" stroke="#666" fill="none"/>
<path d="M36,1193 V1130 Q108,1124 158,1152 Q178,1170 184,1193 Z" fill="#d3d6d3"/>
<path d="M36,1193 V1160 Q86,1158 118,1193 Z" fill="#c3c7c3"/>
<path d="M168,1138 l6,6 -6,6 6,6 -6,6 6,6 -6,6 6,6 M186,1150 l6,6 -6,6 6,6 -6,6 6,6" fill="none" stroke="#555"/>
<path d="M166,996 L196,992 L200,1016 L170,1018Z" fill="#f6ead6"/>
<path d="M170,1012 L198,1016 L186,1040 Q176,1062 160,1064 L146,1056 L150,1040 Z" fill="#f5dcc0"/>
<path d="M150,1046 L126,1100 M160,1050 L136,1104" stroke="#111" stroke-width="5" fill="none"/>
<circle cx="128" cy="1100" r="5" fill="#888" stroke="#111"/>
<path d="M120,1128 L180,1118 L190,1140 L150,1148 Q128,1150 120,1140Z" fill="#f5dcc0"/>
<path d="M178,1116 L200,1110 L206,1136 L188,1142Z" fill="#f6ead6"/>
</g>

<!-- step boxes -->
<g fill="#2276c0">
<rect x="228" y="894" width="146" height="144"/><rect x="378" y="894" width="146" height="144"/>
<rect x="529" y="894" width="146" height="144"/><rect x="679" y="894" width="146" height="144"/>
<rect x="228" y="1044" width="146" height="146"/><rect x="378" y="1044" width="146" height="146"/>
<rect x="529" y="1044" width="146" height="146"/><rect x="679" y="1044" width="146" height="146"/>
</g>
<g fill="#fff">
<rect x="233" y="899" width="136" height="134"/><rect x="383" y="899" width="136" height="134"/>
<rect x="534" y="899" width="136" height="134"/><rect x="684" y="899" width="136" height="134"/>
<rect x="233" y="1049" width="136" height="136"/><rect x="383" y="1049" width="136" height="136"/>
<rect x="534" y="1049" width="136" height="136"/><rect x="684" y="1049" width="136" height="136"/>
</g>
<use xlink:href="#st" href="#st" x="226" y="895"/>
<use xlink:href="#st" href="#st" x="378" y="896"/>
<use xlink:href="#st" href="#st" x="532" y="892"/>
<use xlink:href="#st" href="#st" x="678" y="897"/>
<use xlink:href="#st" href="#st" x="228" y="1052"/>
<use xlink:href="#st" href="#st" x="378" y="1048"/>
<use xlink:href="#st" href="#st" x="529" y="1043"/>
<!-- box 8 tire -->
<g stroke="#555">
<path d="M812,1063 H748 Q713,1066 713,1102 Q713,1138 748,1142 H812 Z" fill="#d7dad7"/>
<path d="M718,1115 Q760,1128 812,1124 M716,1130 Q760,1142 812,1138" fill="none" stroke="#666" stroke-dasharray="2 2"/>
<ellipse cx="790" cy="1078" rx="28" ry="15" fill="#bfe5ee" stroke="#333"/>
<ellipse cx="792" cy="1078" rx="20" ry="10" fill="#e6f4f7" stroke="#6aa"/>
<ellipse cx="794" cy="1078" rx="13" ry="6" fill="#bfe5ee" stroke="#6aa"/>
</g>
<!-- levers -->
<g stroke="#6b5a20" stroke-width="4" stroke-linecap="round">
<path d="M256,993 L302,947 M400,948 L440,950 M570,962 L620,942 M750,908 L750,935 M312,1057 L293,1087 M395,1117 L453,1090 M555,1123 L602,1090 M703,1107 L765,1093"/>
</g>
<g stroke="#efd97f" stroke-width="2.4" stroke-linecap="round">
<path d="M256,993 L302,947 M400,948 L440,950 M570,962 L620,942 M750,908 L750,935 M312,1057 L293,1087 M395,1117 L453,1090 M555,1123 L602,1090 M703,1107 L765,1093"/>
</g>
<g stroke="#333" stroke-width="3.5" stroke-linecap="round" fill="none">
<path d="M465,905 L452,948 L442,950 M567,945 L623,940 M245,1110 L298,1093 L302,1085 M405,1128 L460,1093 M713,1070 L767,1088"/>
</g>
<g stroke="#cfe3e8" stroke-width="2" stroke-linecap="round" fill="none">
<path d="M465,905 L452,948 L442,950 M567,945 L623,940 M245,1110 L298,1093 L302,1085 M405,1128 L460,1093 M713,1070 L767,1088"/>
</g>
<path d="M565,927 Q575,924 590,935 L592,958 Q580,962 566,958Z" fill="#f5dcc0" stroke="#555"/>
<path d="M610,1062 Q620,1060 628,1066 L628,1093 L616,1093 L610,1078Z" fill="#f5dcc0" stroke="#555"/>
<!-- digits -->
<g font-size="30" fill="#27a55c" stroke="#27a55c" stroke-width="1.3">
<text x="237" y="927" textLength="11" lengthAdjust="spacingAndGlyphs">1</text>
<text x="390" y="927" textLength="18" lengthAdjust="spacingAndGlyphs">2</text>
<text x="539" y="927" textLength="18" lengthAdjust="spacingAndGlyphs">3</text>
<text x="690" y="927" textLength="20" lengthAdjust="spacingAndGlyphs">4</text>
<text x="237" y="1080" textLength="18" lengthAdjust="spacingAndGlyphs">5</text>
<text x="390" y="1080" textLength="18" lengthAdjust="spacingAndGlyphs">6</text>
<text x="538" y="1080" textLength="18" lengthAdjust="spacingAndGlyphs">7</text>
<text x="690" y="1080" textLength="18" lengthAdjust="spacingAndGlyphs">8</text>
</g>
<!-- step captions -->
<g font-size="7" fill="#333">
<text x="257" y="1019" textLength="72" lengthAdjust="spacingAndGlyphs">Плоской лопаткой</text>
<text x="236" y="1027" textLength="113" lengthAdjust="spacingAndGlyphs">отжать борт покрышки вниз</text>
<text x="392" y="1011" textLength="106" lengthAdjust="spacingAndGlyphs">В зазор вставить изогнутую</text>
<text x="392" y="1019" textLength="117" lengthAdjust="spacingAndGlyphs">лопатку и, передвигаясь вдоль</text>
<text x="392" y="1027" textLength="112" lengthAdjust="spacingAndGlyphs">обода, отжать борт покрышки</text>
<text x="541" y="1003" textLength="117" lengthAdjust="spacingAndGlyphs">Вставить плоскую лопатку в паз</text>
<text x="541" y="1012" textLength="116" lengthAdjust="spacingAndGlyphs">кольца и отжать его, удерживая</text>
<text x="541" y="1021" textLength="116" lengthAdjust="spacingAndGlyphs">изогнутой лопаткой. Снять борт</text>
<text x="541" y="1031" textLength="90" lengthAdjust="spacingAndGlyphs">покрышки с полки обода</text>
<text x="691" y="1019" textLength="118" lengthAdjust="spacingAndGlyphs">Прямой лопаткой отжать замоч-</text>
<text x="697" y="1028" textLength="106" lengthAdjust="spacingAndGlyphs">ное кольцо из канавки обода</text>
<text x="240" y="1171" textLength="119" lengthAdjust="spacingAndGlyphs">Приподнять замочное кольцо</text>
<text x="260" y="1180" textLength="79" lengthAdjust="spacingAndGlyphs">изогнутой лопаткой</text>
<text x="400" y="1172" textLength="98" lengthAdjust="spacingAndGlyphs">Вставить прямую лопатку</text>
<text x="409" y="1181" textLength="80" lengthAdjust="spacingAndGlyphs">под замочное кольцо</text>
<text x="540" y="1156" textLength="127" lengthAdjust="spacingAndGlyphs">Поддерживается замочное кольцо</text>
<text x="540" y="1165" textLength="120" lengthAdjust="spacingAndGlyphs">рукой, выжать его прямой лопа-</text>
<text x="540" y="1174" textLength="107" lengthAdjust="spacingAndGlyphs">ткой.<tspan fill="#e52a2d"> Тянуть за конец кольца</tspan></text>
<text x="540" y="1183" fill="#e52a2d" textLength="62" lengthAdjust="spacingAndGlyphs">ЗАПРЕЩАЕТСЯ !</text>
<text x="711" y="1170" textLength="85" lengthAdjust="spacingAndGlyphs">Перевернуть колесо,</text>
<text x="708" y="1179" textLength="90" lengthAdjust="spacingAndGlyphs">извлечь диск из шины</text>
</g>
<!-- watermark -->
<text class="n" x="110" y="1165" font-size="78" fill="#fff" fill-opacity="0.25" stroke="#cccccc" stroke-width="1" textLength="610" lengthAdjust="spacingAndGlyphs">batulina.satu.kz</text>

<!-- bottom bar -->
<rect x="0" y="1222" width="853" height="58" fill="#1d70b8"/>
<rect x="0" y="1222" width="853" height="1.5" fill="#155a96"/>
</svg>
</body></html>
